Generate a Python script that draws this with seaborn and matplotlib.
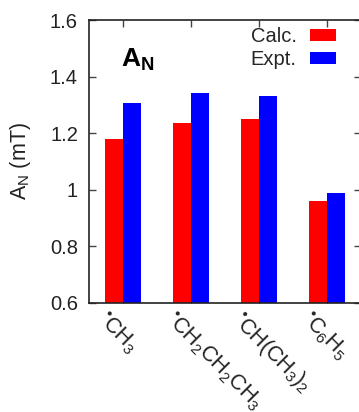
import pandas as pd
import matplotlib.pyplot as plt
import seaborn as sns
from matplotlib.transforms import ScaledTranslation

# data
radicals = ['$^{•}$CH$_3$', '$^{•}$CH$_2$CH$_2$CH$_3$', '$^{•}$CH(CH$_3$)$_2$', '$^{•}$C$_6$H$_5$']
calc = [1.18, 1.235, 1.25, 0.962]
expt = [1.305, 1.342, 1.332, 0.99]
series = ['Calc.', 'Expt.']
colors = ['#ff0000', '#0000ff']

df = pd.DataFrame({
    'radical': radicals * 2,
    'kind': [series[0]] * len(radicals) + [series[1]] * len(radicals),
    'value': calc + expt,
})

sns.set_style('ticks')
plt.rcParams['font.family'] = ['Liberation Sans', 'DejaVu Sans']
plt.rcParams['mathtext.fontset'] = 'custom'
plt.rcParams['mathtext.rm'] = 'Liberation Sans'
plt.rcParams['mathtext.it'] = 'Liberation Sans:italic'
plt.rcParams['mathtext.bf'] = 'Liberation Sans:bold'

fs = 14.5
fig = plt.figure(figsize=(3.59, 4.12), dpi=100)
ax = fig.add_axes([89 / 359, 109 / 412, 272 / 359, 283 / 412])

sns.barplot(data=df, x='radical', y='value', hue='kind', palette=colors,
            width=0.52, saturation=1, gap=0, ax=ax, edgecolor='none')

ax.set_ylim(0.6, 1.6)
ax.set_xlim(-0.5, 3.5)
ax.set_yticks([0.6, 0.8, 1.0, 1.2, 1.4, 1.6])
ax.set_yticklabels(['0.6', '0.8', '1', '1.2', '1.4', '1.6'], fontsize=fs, color='#222222')
ax.set_xlabel('')
ax.set_ylabel('A$_\\mathrm{N}$ (mT)', fontsize=15.5, color='#222222')
ax.yaxis.set_label_coords(-0.205, 0.5)

for s in ax.spines.values():
    s.set_visible(True)
    s.set_linewidth(1.2)
    s.set_color('#222222')
ax.tick_params(direction='in', top=True, right=True, length=5, width=1, color='#444444')
ax.tick_params(axis='y', pad=8)

# rotated radical labels, shifted a little left of the tick
off = ScaledTranslation(-10 / 72, 0, fig.dpi_scale_trans)
for lab in ax.get_xticklabels():
    lab.set_rotation(-45)
    lab.set_rotation_mode('anchor')
    lab.set_ha('left')
    lab.set_va('top')
    lab.set_fontsize(15.5)
    lab.set_color('#222222')
    lab.set_transform(lab.get_transform() + off)

ax.text(0.118, 0.834, r'$\mathbf{A_N}$', transform=ax.transAxes, fontsize=19, color='black')

ax.legend(title=None, markerfirst=False, frameon=False, loc='upper right',
          bbox_to_anchor=((336 - 89) / 272, (303 - 27) / 283), borderaxespad=0,
          borderpad=0, fontsize=fs, handlelength=1.3, handleheight=0.55,
          handletextpad=0.65, labelspacing=0.22)

fig.savefig('out.png', dpi=100)
